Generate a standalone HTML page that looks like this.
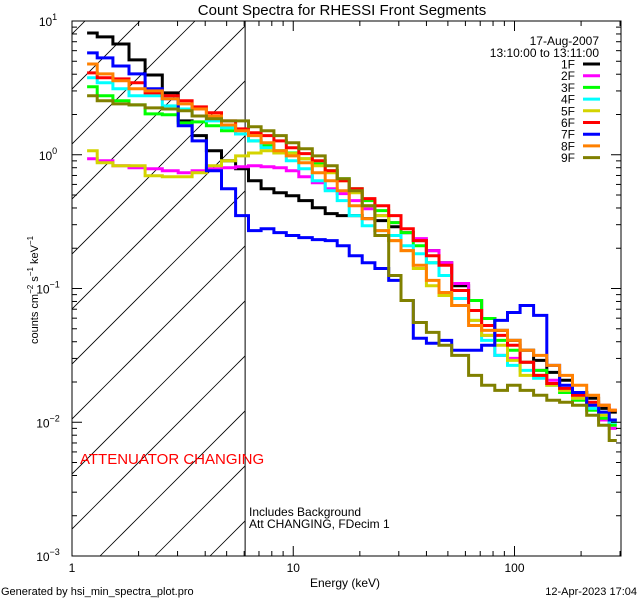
<!DOCTYPE html>
<html><head><meta charset="utf-8"><style>
html,body{margin:0;padding:0;background:#fff;}
svg{display:block;font-family:"Liberation Sans",sans-serif;}
</style></head><body>
<svg id="chart" width="640" height="600" viewBox="0 0 640 600"></svg>
<script>
const edges = [1.17,1.30,1.53,1.81,2.14,2.56,3.02,3.49,4.05,4.74,5.49,6.28,7.16,8.18,9.3,10.6,12.2,13.95,15.8,17.9,20.5,23.4,27,30.7,34.9,40,45.6,52,62,71,81.5,93,106,122,140,160,183,212,240,268,290];
const seriesNames = ["1F","2F","3F","4F","5F","6F","7F","8F","9F"];
const seriesColors = ["#000000","#ff00ff","#00ff00","#00ffff","#d4d400","#ff0000","#0000ff","#ff8000","#808000"];
const s1F = [8.13,7.6,6.73,5.12,3.95,2.9,1.79,1.39,1.07,0.902,0.787,0.640,0.557,0.520,0.494,0.454,0.402,0.363,0.351,0.351,0.333,0.322,0.290,0.262,0.228,0.192,0.156,0.105,0.0813,0.0597,0.0486,0.0409,0.0345,0.0290,0.0236,0.0206,0.0167,0.0151,0.0127,0.0119];
const s2F = [0.933,0.902,0.828,0.800,0.787,0.760,0.734,0.760,0.787,0.800,0.813,0.828,0.813,0.800,0.760,0.685,0.618,0.557,0.512,0.454,0.395,0.351,0.311,0.262,0.236,0.192,0.156,0.109,0.0813,0.0446,0.0316,0.0300,0.0281,0.0244,0.0206,0.0179,0.0151,0.0127,0.0104,0.0090];
const s3F = [3.22,2.76,2.53,2.36,2.02,1.99,1.73,1.76,1.65,1.51,1.43,1.27,1.17,1.07,1.03,0.933,0.857,0.760,0.662,0.557,0.454,0.382,0.311,0.262,0.209,0.156,0.125,0.0966,0.0813,0.0597,0.0409,0.0345,0.0281,0.0244,0.0195,0.0167,0.0146,0.0123,0.0107,0.0095];
const s4F = [3.76,3.45,3.11,2.76,2.76,2.32,2.20,1.95,1.79,1.59,1.43,1.27,1.13,1.03,0.902,0.787,0.640,0.539,0.454,0.351,0.295,0.271,0.249,0.209,0.182,0.156,0.125,0.0842,0.0577,0.0409,0.0316,0.0266,0.0244,0.0213,0.0189,0.0173,0.0151,0.0127,0.0113,0.0100];
const s5F = [1.07,0.871,0.828,0.828,0.697,0.685,0.685,0.734,0.828,0.902,0.98,1.03,1.07,1.03,1.02,0.933,0.828,0.734,0.640,0.520,0.416,0.351,0.228,0.192,0.141,0.105,0.0887,0.0746,0.0577,0.0446,0.0376,0.0290,0.0224,0.0224,0.0189,0.0173,0.0151,0.0134,0.0113,0.0104];
const s6F = [4.09,3.76,3.69,3.45,2.90,2.76,2.53,2.28,2.06,1.79,1.56,1.46,1.39,1.27,1.13,1.02,0.902,0.760,0.640,0.557,0.470,0.416,0.351,0.280,0.228,0.176,0.149,0.0966,0.0685,0.0529,0.0446,0.0376,0.0281,0.0224,0.0195,0.0179,0.0159,0.0141,0.0134,0.0123];
const s7F = [5.77,5.30,4.61,4.02,3.11,2.62,1.65,1.27,0.760,0.557,0.351,0.271,0.280,0.262,0.249,0.240,0.232,0.228,0.209,0.176,0.156,0.141,0.115,0.0813,0.0424,0.0389,0.0409,0.0345,0.0345,0.0376,0.0577,0.0662,0.0746,0.0629,0.0266,0.0189,0.0167,0.0134,0.0119,0.0104];
const s8F = [4.77,4.02,3.57,3.11,3.00,2.62,2.40,2.20,1.95,1.67,1.51,1.39,1.23,1.07,0.98,0.871,0.734,0.640,0.539,0.416,0.333,0.271,0.228,0.192,0.149,0.115,0.0933,0.0746,0.0529,0.0486,0.0486,0.0409,0.0345,0.0316,0.0266,0.0224,0.0189,0.0159,0.0134,0.0123];
const s9F = [2.76,2.53,2.40,2.36,2.24,2.20,2.13,1.95,1.86,1.79,1.79,1.62,1.51,1.39,1.23,1.11,0.98,0.828,0.662,0.539,0.416,0.249,0.125,0.0813,0.0557,0.0470,0.0376,0.0316,0.0224,0.0189,0.0173,0.0189,0.0173,0.0159,0.0146,0.0141,0.0134,0.0113,0.0095,0.0073];
const xTickLabels = ["1","10","100"];
const yTickExps = ["1","0","-1","-2","-3"];
const attenEdge = 6.06;

const L=72,R=621,T=21,B=556;
const xMin=1, xMax=303, yMin=1e-3, yMax=10;
const xs = e => L + (Math.log10(e)-Math.log10(xMin))/(Math.log10(xMax)-Math.log10(xMin))*(R-L);
const ys = v => B - (Math.log10(v)-Math.log10(yMin))/(Math.log10(yMax)-Math.log10(yMin))*(B-T);
const NS="http://www.w3.org/2000/svg";
const svg=document.getElementById('chart');
function mk(tag,attrs,parent){const el=document.createElementNS(NS,tag);for(const k in attrs)el.setAttribute(k,attrs[k]);(parent||svg).appendChild(el);return el;}
function txt(s,attrs,parent){const t=mk('text',attrs,parent);t.textContent=s;return t;}

const defs=mk('defs',{});
const cp=mk('clipPath',{id:'hc'},defs);
mk('rect',{x:L,y:T,width:xs(attenEdge)-L,height:B-T},cp);
const cp2=mk('clipPath',{id:'pc'},defs);
mk('rect',{x:L,y:T,width:R-L,height:B-T},cp2);

const hatch=mk('g',{'clip-path':'url(#hc)'});


for(let x0=100-55*12;x0<400;x0+=55){
  mk('line',{x1:x0,y1:B,x2:x0+600,y2:B-600,stroke:'#000','stroke-width':0.8},hatch);
}
const vl=mk('line',{x1:xs(attenEdge),y1:T,x2:xs(attenEdge),y2:B,stroke:'#000','stroke-width':1});



const allSeries=[s1F,s2F,s3F,s4F,s5F,s6F,s7F,s8F,s9F];
const sg=mk('g',{'clip-path':'url(#pc)'});
allSeries.forEach((vals,i)=>{
  let d='';
  vals.forEach((v,j)=>{
    const x1=xs(edges[j]),x2=xs(edges[j+1]),y=ys(v);
    d+=(j===0?'M':'L')+x1.toFixed(1)+','+y.toFixed(1)+'L'+x2.toFixed(1)+','+y.toFixed(1);
  });
  const p=mk('path',{d:d,fill:'none',stroke:seriesColors[i],'stroke-width':3,'stroke-linejoin':'miter'},sg);
  
  
});

const box=mk('rect',{x:L,y:T,width:R-L,height:B-T,fill:'none',stroke:'#000','stroke-width':1});



const xt=mk('g',{stroke:'#000','stroke-width':1});


for(let dec=1;dec<=100;dec*=10){for(let m=1;m<=9;m++){const e=dec*m;if(e>xMax)break;const x=xs(e);const len=m===1?10:5;
  mk('line',{x1:x,y1:B,x2:x,y2:B-len},xt);mk('line',{x1:x,y1:T,x2:x,y2:T+len},xt);}}
xTickLabels.forEach(s=>{const t=txt(s,{x:xs(+s),y:572,'font-size':12,'text-anchor':'middle'});
  });
const yt=mk('g',{stroke:'#000','stroke-width':1});


for(let p=-3;p<=0;p++){for(let m=1;m<=9;m++){const v=Math.pow(10,p)*m;const y=ys(v);const len=m===1?10:5;
  mk('line',{x1:L,y1:y,x2:L+len,y2:y},yt);mk('line',{x1:R,y1:y,x2:R-len,y2:y},yt);}}
yTickExps.forEach(s=>{const y=ys(Math.pow(10,+s));const t=mk('text',{x:48,y:y+5,'font-size':12,'text-anchor':'middle'});
  
  const a=document.createElementNS(NS,'tspan');a.textContent='10';t.appendChild(a);
  const b=document.createElementNS(NS,'tspan');b.setAttribute('dy','-6');b.setAttribute('font-size','9');b.textContent=s==='1'||s==='0'?s:'\u2212'+s.slice(1);t.appendChild(b);});

const lg=mk('g',{});


txt('17-Aug-2007',{x:599,y:45,'font-size':12,'text-anchor':'end'},lg);
txt('13:10:00 to 13:11:00',{x:599,y:57,'font-size':12,'text-anchor':'end'},lg);
seriesNames.forEach((n,i)=>{const y=64+i*11.7;
  const t=txt(n,{x:575,y:y+4.5,'font-size':12,'text-anchor':'end'},lg);
  
  const l=mk('line',{x1:583,y1:y,x2:600,y2:y,stroke:seriesColors[i],'stroke-width':3},lg);
  });
</script>
<script>
(function(){
const svg=document.getElementById('chart');const NS="http://www.w3.org/2000/svg";
function t(s,a,name){const e=document.createElementNS(NS,'text');for(const k in a)e.setAttribute(k,a[k]);e.textContent=s;


svg.appendChild(e);return e;}
t('Count Spectra for RHESSI Front Segments',{x:342,y:15,'font-size':15,'text-anchor':'middle'},'chart-title');
t('Energy (keV)',{x:345,y:587,'font-size':12,'text-anchor':'middle'},'x-axis-title');
t('Generated by hsi_min_spectra_plot.pro',{x:1,y:595,'font-size':11},'footer-generated');
t('12-Apr-2023 17:04',{x:637,y:595,'font-size':11,'text-anchor':'end'},'footer-date');
t('ATTENUATOR CHANGING',{x:80,y:464,'font-size':15,fill:'#ff0000'},'attenuator-warning');
t('Includes Background',{x:249,y:516,'font-size':12},'background-note');
t('Att CHANGING, FDecim 1',{x:249,y:528,'font-size':12},'att-note');
const y=document.createElementNS(NS,'text');y.setAttribute('transform','translate(38,290) rotate(-90)');y.setAttribute('font-size','11');y.setAttribute('text-anchor','middle');


y.innerHTML='counts cm<tspan dy="-5" font-size="8">\u22122</tspan><tspan dy="5"> s</tspan><tspan dy="-5" font-size="8">\u22121</tspan><tspan dy="5"> keV</tspan><tspan dy="-5" font-size="8">\u22121</tspan>';
svg.appendChild(y);
})();
</script>
</body></html>
